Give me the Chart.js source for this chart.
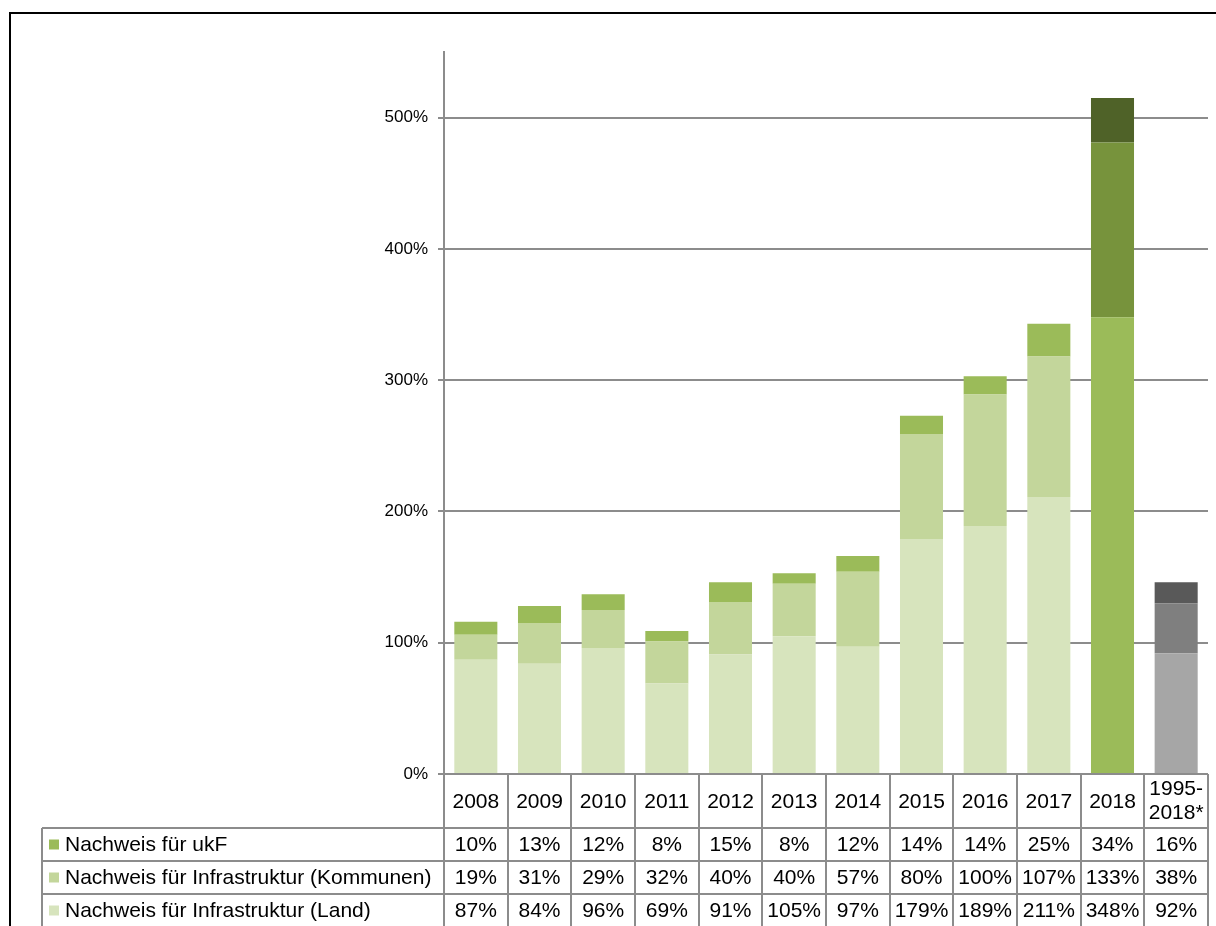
<!DOCTYPE html>
<html>
<head>
<meta charset="utf-8">
<script src="https://cdn.jsdelivr.net/npm/chart.js@4"></script>
<style>
    body { margin: 0; background: #fff; overflow: hidden; }
    #frame { position: absolute; left: 9px; top: 12px; width: 1400px; height: 1100px; border-top: 2px solid #000; border-left: 2px solid #000; }
    #wrap { position: absolute; left: 0; top: 0; width: 1216px; height: 926px; }
</style>
</head>
<body>
<div id="frame"></div>
<div id="wrap"><canvas id="chart" width="1216" height="926"></canvas></div>
<script>
// データ
const years = ['2008', '2009', '2010', '2011', '2012', '2013', '2014', '2015', '2016', '2017', '2018', ['1995-', '2018*']]
const landValues = [87, 84, 96, 69, 91, 105, 97, 179, 189, 211, 348, 92]
const kommunenValues = [19, 31, 29, 32, 40, 40, 57, 80, 100, 107, 133, 38]
const ukfValues = [10, 13, 12, 8, 15, 8, 12, 14, 14, 25, 34, 16]
const yTicks = [0, 100, 200, 300, 400, 500]

const labelLand = 'Nachweis für Infrastruktur (Land)'
const labelKommunen = 'Nachweis für Infrastruktur (Kommunen)'
const labelUkf = 'Nachweis für ukF'

// 色 (2018と1995-2018は別の色)
function barColors(normal, y2018, total) {
    let arr = []
    for (let i = 0; i < years.length; i++) arr.push(normal)
    arr[10] = y2018
    arr[11] = total
    return arr
}
const gridColor = '#8c8c8c'
const tableFont = '21px "Liberation Sans", Arial, sans-serif'

// 表を描くプラグイン
const tablePlugin = {
    id: 'dataTable',
    afterDraw(chart) {
        let ctx = chart.ctx
        let area = chart.chartArea
        let xs = chart.scales.x
        let n = years.length
        let cw = (area.right - area.left) / n
        let top = area.bottom
        let rowTop = 828
        let rowH = 33
        let legLeft = 42
        let bottom = chart.height + 5
        ctx.save()
        ctx.strokeStyle = gridColor
        ctx.lineWidth = 2
        // 縦線
        for (let i = 0; i <= n; i++) {
            let x = Math.round(area.left + i * cw)
            ctx.beginPath()
            ctx.moveTo(x, top)
            ctx.lineTo(x, bottom)
            ctx.stroke()
        }
        ctx.beginPath()
        ctx.moveTo(legLeft, rowTop)
        ctx.lineTo(legLeft, bottom)
        ctx.stroke()
        // 横線
        for (let r = 0; r < 4; r++) {
            let y = rowTop + r * rowH
            ctx.beginPath()
            ctx.moveTo(legLeft, y)
            ctx.lineTo(area.right, y)
            ctx.stroke()
        }
        // 見出し (年)
        ctx.fillStyle = '#000'
        ctx.font = tableFont
        ctx.textAlign = 'center'
        ctx.textBaseline = 'middle'
        for (let i = 0; i < n; i++) {
            let cx = xs.getPixelForValue(i)
            let lab = years[i]
            if (Array.isArray(lab)) {
                ctx.fillText(lab[0], cx, (top + rowTop) / 2 - 12)
                ctx.fillText(lab[1], cx, (top + rowTop) / 2 + 12)
            } else {
                ctx.fillText(lab, cx, (top + rowTop) / 2 + 1)
            }
        }
        // 各行
        let rows = [chart.data.datasets[2], chart.data.datasets[1], chart.data.datasets[0]]
        for (let r = 0; r < rows.length; r++) {
            let ds = rows[r]
            let cy = rowTop + r * rowH + rowH / 2 + 1
            ctx.fillStyle = ds.legendColor
            ctx.fillRect(49, cy - 6, 10, 10)
            ctx.fillStyle = '#000'
            ctx.textAlign = 'left'
            ctx.fillText(ds.label, 65, cy)
            ctx.textAlign = 'center'
            for (let i = 0; i < n; i++) {
                ctx.fillText(ds.data[i] + '%', xs.getPixelForValue(i), cy)
            }
        }
        ctx.restore()
    }
}

let ctx = document.getElementById('chart').getContext('2d')
let data = {
    labels: years,
    datasets: [{
        label: labelLand,
        data: landValues,
        backgroundColor: barColors('#d7e4bd', '#9bbb59', '#a6a6a6'),
        legendColor: '#d7e4bd',
    }, {
        label: labelKommunen,
        data: kommunenValues,
        backgroundColor: barColors('#c3d69b', '#77933c', '#7f7f7f'),
        legendColor: '#c3d69b',
    }, {
        label: labelUkf,
        data: ukfValues,
        backgroundColor: barColors('#9bbb59', '#4f6228', '#595959'),
        legendColor: '#9bbb59',
    }]
}
let options = {
    responsive: false,
    animation: false,
    layout: {
        padding: { left: 0, top: 52, right: 8, bottom: 152 }
    },
    datasets: {
        bar: { barPercentage: 0.676, categoryPercentage: 1, borderWidth: 0 }
    },
    scales: {
        x: {
            display: false,
            stacked: true,
        },
        y: {
            stacked: true,
            min: 0,
            max: 550,
            afterBuildTicks: function (scale) {
                scale.ticks = yTicks.map(v => ({ value: v }))
            },
            afterFit: function (scale) {
                scale.width = 444
            },
            ticks: {
                stepSize: 100,
                padding: 10,
                color: '#000',
                font: { family: '"Liberation Sans", Arial, sans-serif', size: 17 },
                callback: v => v + '%'
            },
            grid: {
                color: gridColor,
                lineWidth: 2,
                tickLength: 6,
            },
            border: {
                color: gridColor,
                width: 2,
            }
        }
    },
    plugins: {
        legend: { display: false },
        tooltip: { enabled: false }
    }
}
let chart = new Chart(ctx, {
    type: 'bar',
    data: data,
    options: options,
    plugins: [tablePlugin]
})
</script>
</body>
</html>
